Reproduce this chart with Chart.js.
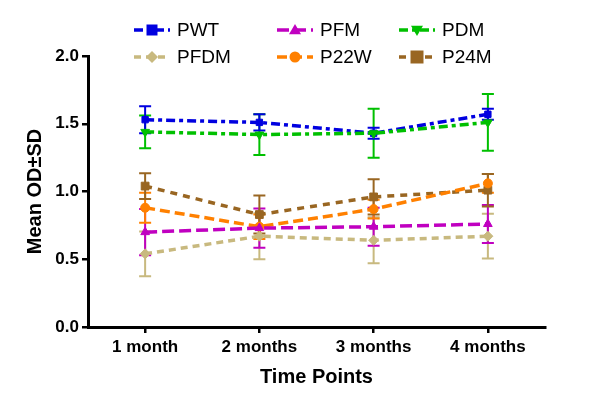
<!DOCTYPE html>
<html>
<head>
<meta charset="utf-8">
<script src="https://cdn.jsdelivr.net/npm/chart.js@4"></script>
<style>
  html, body { margin: 0; padding: 0; background: #fff; }
  #wrap { width: 600px; height: 407px; }
</style>
</head>
<body>
<div id="wrap"><canvas id="odChart" width="600" height="407"></canvas></div>
<script>
const timePoints = ['1 month', '2 months', '3 months', '4 months'];
const yTicks = [0.0, 0.5, 1.0, 1.5, 2.0];

const pwt = [1.53, 1.51, 1.43, 1.57];
const pwtSd = [0.10, 0.06, 0.04, 0.04];
const pfm = [0.70, 0.73, 0.74, 0.76];
const pfmSd = [0.17, 0.145, 0.14, 0.14];
const pdm = [1.44, 1.42, 1.43, 1.51];
const pdmSd = [0.12, 0.15, 0.18, 0.21];
const pfdm = [0.54, 0.67, 0.64, 0.67];
const pfdmSd = [0.165, 0.17, 0.17, 0.165];
const p22w = [0.88, 0.74, 0.87, 1.06];
const p22wSd = [0.11, 0.09, 0.07, 0.07];
const p24m = [1.04, 0.83, 0.96, 1.01];
const p24mSd = [0.095, 0.14, 0.13, 0.12];

function series(label, data, sd, color, dash, style, radius, rotation) {
    return {
        label: label,
        data: data,
        sd: sd,
        borderColor: color,
        backgroundColor: color,
        borderWidth: 3.5,
        borderDash: dash,
        pointStyle: style,
        pointRadius: radius,
        pointRotation: rotation || 0,
        pointBorderWidth: 1,
        tension: 0,
        fill: false
    };
}

const datasets = [
    series('PFDM', pfdm, pfdmSd, '#c8b97f', [7, 5], 'rectRot', 5),
    series('PFM', pfm, pfmSd, '#c000c0', [12, 5], 'triangle', 5),
    series('P22W', p22w, p22wSd, '#ff8000', [10, 5], 'circle', 4.5),
    series('P24M', p24m, p24mSd, '#996622', [7, 6], 'rect', 5.5),
    series('PDM', pdm, pdmSd, '#00c000', [9, 4, 4, 4], 'triangle', 5, 180),
    series('PWT', pwt, pwtSd, '#0000e0', [9, 4, 4, 4], 'rect', 4.5)
];

// error bars drawn with the chart's own scales
const errorBars = {
    id: 'errorBars',
    beforeDatasetsDraw(chart) {
        const ctx = chart.ctx;
        const y = chart.scales.y;
        chart.data.datasets.forEach((ds, i) => {
            const meta = chart.getDatasetMeta(i);
            ctx.save();
            ctx.strokeStyle = ds.borderColor;
            ctx.lineWidth = 2;
            meta.data.forEach((pt, j) => {
                const top = y.getPixelForValue(ds.data[j] + ds.sd[j]);
                const bot = y.getPixelForValue(ds.data[j] - ds.sd[j]);
                ctx.beginPath();
                ctx.moveTo(pt.x, top); ctx.lineTo(pt.x, bot);
                ctx.moveTo(pt.x - 6, top); ctx.lineTo(pt.x + 6, top);
                ctx.moveTo(pt.x - 6, bot); ctx.lineTo(pt.x + 6, bot);
                ctx.stroke();
            });
            ctx.restore();
        });
    }
};

function drawMarker(ctx, style, x, y, r, rot) {
    ctx.beginPath();
    if (style === 'rect') {
        ctx.rect(x - r, y - r, 2 * r, 2 * r);
    } else if (style === 'rectRot') {
        ctx.moveTo(x, y - r); ctx.lineTo(x + r, y); ctx.lineTo(x, y + r); ctx.lineTo(x - r, y);
        ctx.closePath();
    } else if (style === 'circle') {
        ctx.arc(x, y, r, 0, Math.PI * 2);
    } else if (style === 'triangle') {
        const s = rot === 180 ? -1 : 1;
        ctx.moveTo(x, y - s * r); ctx.lineTo(x + r, y + s * r * 0.7); ctx.lineTo(x - r, y + s * r * 0.7);
        ctx.closePath();
    }
    ctx.fill();
}

// legend in three aligned columns, two rows
const gridLegend = {
    id: 'gridLegend',
    afterDraw(chart) {
        const ctx = chart.ctx;
        const order = ['PWT', 'PFM', 'PDM', 'PFDM', 'P22W', 'P24M'];
        const colX = [134, 277, 399];
        const rowY = [30, 57];
        order.forEach((name, k) => {
            const ds = chart.data.datasets.find(d => d.label === name);
            const x = colX[k % 3];
            const y = rowY[Math.floor(k / 3)];
            ctx.save();
            ctx.strokeStyle = ds.borderColor;
            ctx.fillStyle = ds.borderColor;
            ctx.lineWidth = 3.5;
            ctx.setLineDash(ds.borderDash);
            ctx.beginPath();
            ctx.moveTo(x, y); ctx.lineTo(x + 36, y);
            ctx.stroke();
            ctx.setLineDash([]);
            drawMarker(ctx, ds.pointStyle, x + 18, y, ds.pointRadius + 1, ds.pointRotation);
            ctx.fillStyle = '#000';
            ctx.font = '19px "Liberation Sans", Arial, sans-serif';
            ctx.textBaseline = 'middle';
            ctx.fillText(name, x + 43, y + 1);
            ctx.restore();
        });
    }
};

new Chart(document.getElementById('odChart').getContext('2d'), {
    type: 'line',
    data: { labels: timePoints, datasets: datasets },
    plugins: [errorBars, gridLegend],
    options: {
        responsive: false,
        animation: false,
        layout: { padding: { top: 56, right: 55, left: 0, bottom: 0 } },
        plugins: { legend: { display: false }, tooltip: { enabled: false } },
        scales: {
            x: {
                type: 'category',
                offset: true,
                afterFit(scale) { scale.height = 80; },
                grid: { display: true, drawOnChartArea: false, drawTicks: true, tickLength: 6, color: '#000', lineWidth: 2.5, offset: false },
                border: { color: '#000', width: 3 },
                ticks: { color: '#000', padding: 4, font: { family: '"Liberation Sans", Arial, sans-serif', size: 17, weight: 'bold' } },
                title: { display: true, text: 'Time Points', color: '#000', padding: { top: 0, bottom: 18 }, font: { family: '"Liberation Sans", Arial, sans-serif', size: 20, weight: 'bold' } }
            },
            y: {
                min: 0,
                max: 2,
                afterFit(scale) { scale.width = 88; },
                afterBuildTicks(scale) { scale.ticks = yTicks.map(v => ({ value: v })); },
                grid: { display: true, drawOnChartArea: false, drawTicks: true, tickLength: 6, color: '#000', lineWidth: 2.5 },
                border: { color: '#000', width: 3 },
                ticks: { color: '#000', padding: 3, callback: v => Number(v).toFixed(1), font: { family: '"Liberation Sans", Arial, sans-serif', size: 17, weight: 'bold' } },
                title: { display: true, text: 'Mean OD±SD', color: '#000', padding: { top: 23, bottom: 0 }, font: { family: '"Liberation Sans", Arial, sans-serif', size: 20, weight: 'bold' } }
            }
        }
    }
});
</script>
</body>
</html>
